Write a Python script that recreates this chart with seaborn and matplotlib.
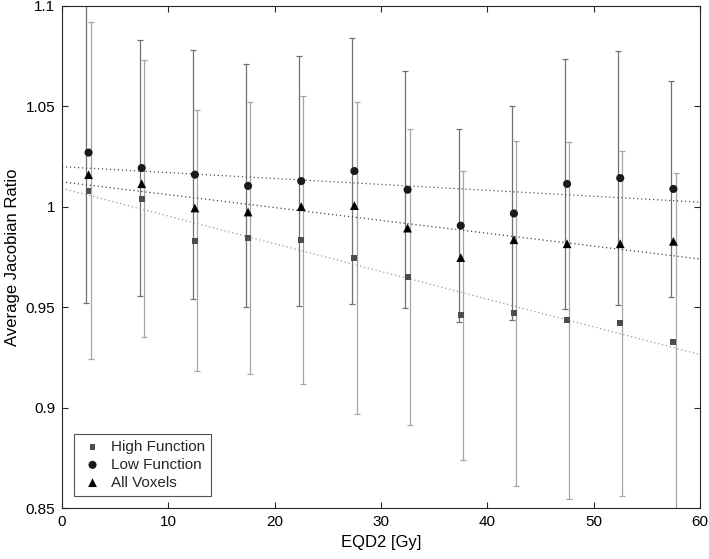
import numpy as np
import pandas as pd
import matplotlib
matplotlib.use("Agg")
import matplotlib.pyplot as plt
import seaborn as sns

# ---- data ----
dose = [2.5, 7.5, 12.5, 17.5, 22.5, 27.5, 32.5, 37.5, 42.5, 47.5, 52.5, 57.5]
high_mean = [1.008, 1.004, 0.983, 0.9845, 0.9835, 0.9745, 0.965, 0.946, 0.947, 0.9435, 0.942, 0.9327]
high_err = [0.084, 0.069, 0.065, 0.0676, 0.0715, 0.0778, 0.0735, 0.072, 0.086, 0.089, 0.086, 0.084]
low_mean = [1.027, 1.0193, 1.016, 1.0104, 1.0128, 1.0178, 1.0085, 0.9906, 0.9967, 1.0114, 1.0143, 1.0089]
low_err = [0.075, 0.0636, 0.062, 0.0605, 0.0622, 0.0661, 0.0591, 0.048, 0.0533, 0.0624, 0.0631, 0.0537]
all_mean = [1.016, 1.0115, 0.9994, 0.9974, 1.0001, 1.0006, 0.9894, 0.9747, 0.9836, 0.9816, 0.9816, 0.9828]
x_ticks = [0, 10, 20, 30, 40, 50, 60]
y_ticks = [0.85, 0.9, 0.95, 1.0, 1.05, 1.1]
y_tick_labels = ["0.85", "0.9", "0.95", "1", "1.05", "1.1"]

df = pd.DataFrame({"dose": dose, "high": high_mean, "low": low_mean, "all": all_mean})

sns.set_theme(style="white")
plt.rcParams["font.family"] = ["Liberation Sans", "DejaVu Sans"]

fig = plt.figure(figsize=(7.09, 5.59), dpi=100)
ax = fig.add_axes([0.0874, 0.0912, 0.8999, 0.8981])

d = np.array(dose)
# error bars
ax.errorbar(d - 0.2, low_mean, yerr=low_err, fmt="none", ecolor="#707070",
            elinewidth=0.9, capsize=2.2, capthick=0.9, zorder=1)
ax.errorbar(d + 0.2, high_mean, yerr=high_err, fmt="none", ecolor="#a6a6a6",
            elinewidth=0.9, capsize=2.2, capthick=0.9, zorder=1)

# fit lines
xf = np.array([0, 60])
for col, c in [("low", "#555555"), ("all", "#444444"), ("high", "#9a9a9a")]:
    k, b = np.polyfit(df["dose"], df[col], 1)
    sns.lineplot(x=xf, y=k * xf + b, ax=ax, color=c, linestyle=(0, (1, 2.2)),
                 linewidth=0.9, zorder=2)

# markers
sns.scatterplot(data=df, x="dose", y="high", ax=ax, marker="s", s=18,
                color="#4d4d4d", edgecolor="none", label="High Function", zorder=3)
sns.scatterplot(data=df, x="dose", y="low", ax=ax, marker="o", s=34,
                color="#1a1a1a", edgecolor="none", label="Low Function", zorder=3)
sns.scatterplot(data=df, x="dose", y="all", ax=ax, marker="^", s=40,
                color="#000000", edgecolor="none", label="All Voxels", zorder=3)

ax.set_xlim(0, 60)
ax.set_ylim(0.85, 1.1)
ax.set_xticks(x_ticks)
ax.set_yticks(y_ticks)
ax.set_yticklabels(y_tick_labels)
ax.tick_params(direction="in", length=4, width=0.8, colors="#262626",
               labelcolor="black", labelsize=11, top=True, right=True,
               bottom=True, left=True, pad=5)
for s in ax.spines.values():
    s.set_color("#262626")
    s.set_linewidth(0.8)
ax.set_xlabel("EQD2 [Gy]", fontsize=12, color="black", labelpad=4)
ax.set_ylabel("Average Jacobian Ratio", fontsize=12, color="black", labelpad=4)

leg = ax.legend(loc="lower left", frameon=True, fancybox=False, fontsize=11,
                edgecolor="#262626", handletextpad=0.4, borderpad=0.4,
                labelspacing=0.25, handlelength=1.6, borderaxespad=0.8)
leg.get_frame().set_linewidth(0.8)

fig.savefig("out.png", dpi=100)
